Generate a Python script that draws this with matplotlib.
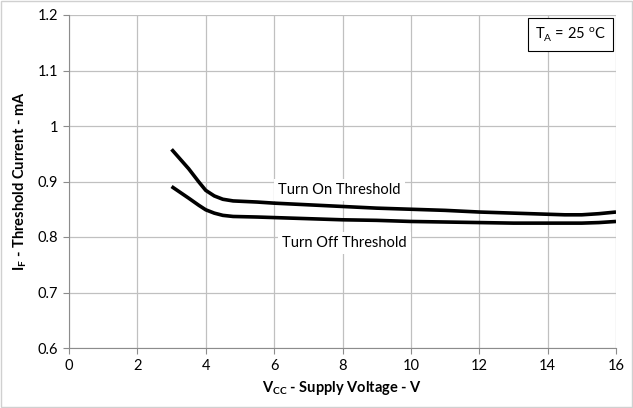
import matplotlib.pyplot as plt
from matplotlib.ticker import FixedLocator

plt.rcParams['font.family'] = ['Lato', 'DejaVu Sans']

# --- Data ---
vcc = [3.0, 3.5, 3.8, 4.0, 4.25, 4.5, 4.8, 5.5, 6.0, 7.0, 8.0, 9.0, 10.0, 11.0, 12.0, 13.0, 14.0, 14.5, 15.0, 15.5, 16.0]
turn_on = [0.958, 0.923, 0.899, 0.884, 0.874, 0.868, 0.865, 0.863, 0.861, 0.858, 0.855, 0.852, 0.850, 0.848, 0.845, 0.843, 0.841, 0.840, 0.840, 0.842, 0.845]
turn_off = [0.891, 0.870, 0.857, 0.849, 0.843, 0.839, 0.837, 0.836, 0.835, 0.833, 0.831, 0.830, 0.828, 0.827, 0.826, 0.825, 0.825, 0.825, 0.825, 0.826, 0.828]

x_ticks = [0, 2, 4, 6, 8, 10, 12, 14, 16]
y_ticks = [0.6, 0.7, 0.8, 0.9, 1.0, 1.1, 1.2]
y_tick_labels = ['0.6', '0.7', '0.8', '0.9', '1', '1.1', '1.2']

fig = plt.figure(figsize=(6.33, 4.08), dpi=100)
ax = fig.add_axes([69 / 633, 1 - 348 / 408, (616 - 69) / 633, (348 - 15) / 408])

ax.plot(vcc, turn_on, color='black', lw=2.6, solid_capstyle='butt', solid_joinstyle='round', zorder=3)
ax.plot(vcc, turn_off, color='black', lw=2.6, solid_capstyle='butt', solid_joinstyle='round', zorder=3)

ax.set_xlim(0, 16)
ax.set_ylim(0.6, 1.2)
ax.xaxis.set_major_locator(FixedLocator(x_ticks))
ax.set_yticks(y_ticks)
ax.set_yticklabels(y_tick_labels)
ax.grid(True, color='#c0c0c0', lw=0.9)
ax.set_axisbelow(True)
for s in ['top', 'right']:
    ax.spines[s].set_visible(False)
for s in ['left', 'bottom']:
    ax.spines[s].set_color('#8c8c8c')
ax.tick_params(length=4, color='#8c8c8c', labelsize=10.5, pad=4)

box = dict(facecolor='white', edgecolor='none', pad=3)
ax.text(7.9, 0.885, 'Turn On Threshold', fontsize=10.5, ha='center', va='center', bbox=box, zorder=4)
ax.text(8.05, 0.789, 'Turn Off Threshold', fontsize=10.5, ha='center', va='center', bbox=box, zorder=4)

ax.text(15.7, 1.165, r'T$_\mathregular{A}$ = 25 $^\mathregular{o}$C', fontsize=10.5, ha='right', va='center',
        bbox=dict(facecolor='white', edgecolor='black', lw=0.8, pad=5), zorder=4)

ax.set_xlabel(r'V$_\mathregular{CC}$ - Supply Voltage - V', fontsize=10.5, fontweight='bold', labelpad=4)
ax.set_ylabel(r'I$_\mathregular{F}$ - Threshold Current - mA', fontsize=10.5, fontweight='bold', labelpad=6)

fig.patches.append(plt.Rectangle((0.002, 0.002), 0.996, 0.996, transform=fig.transFigure,
                                 fill=False, edgecolor='#d0d0d0', lw=1))

fig.savefig('out.png', dpi=100)
